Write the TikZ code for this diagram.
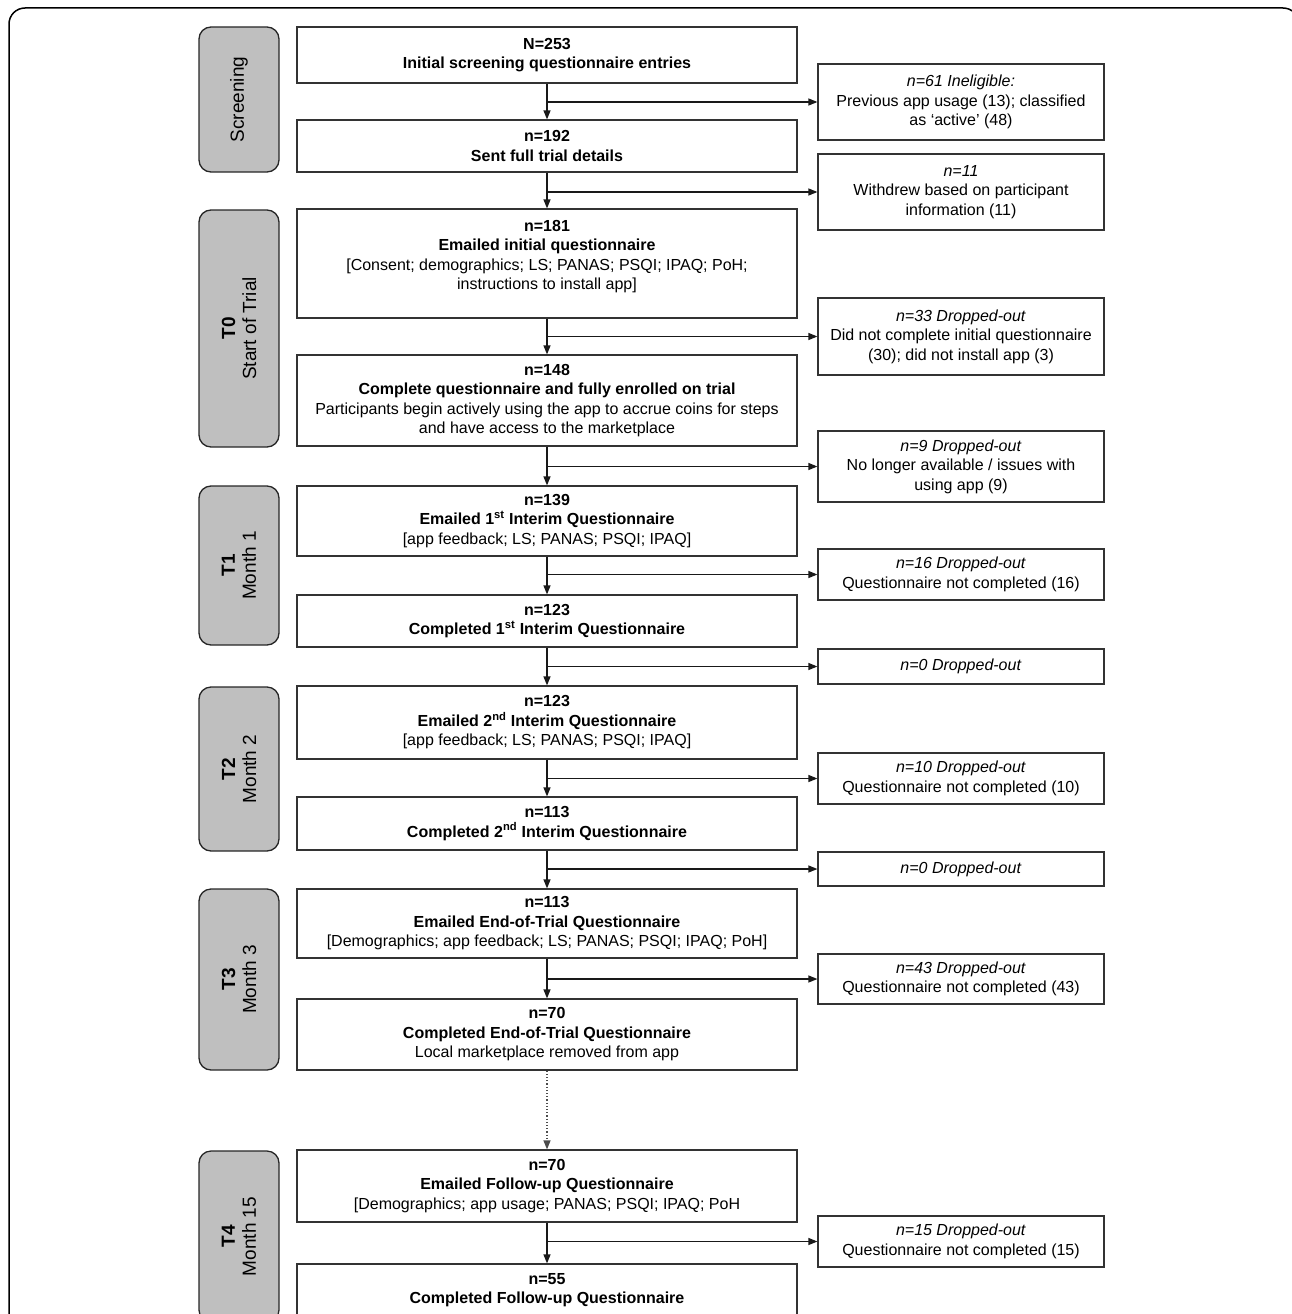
\documentclass[tikz,border=0pt]{standalone}
\usepackage{fontspec}
\setmainfont{Liberation Sans}
\usetikzlibrary{arrows.meta}
\tikzset{
x=1pt, y=-1pt, % one unit per pixel of the layout, y grows downwards
>={Triangle[length=9pt, width=7pt]}, % filled arrow heads
flow/.style={->, line width=1.2pt, black!90}, % arrows between the boxes
mainbox/.style={draw=black!80, line width=1.2pt, minimum width=500pt, align=center, inner sep=2pt, font=\fontsize{16}{19.5}\selectfont}, % left column
dropbox/.style={draw=black!80, line width=1.2pt, minimum width=286pt, align=center, inner sep=2pt, font=\fontsize{16}{19.5}\selectfont}, % exclusions on the right
phasebox/.style={draw=black!85, line width=1.3pt, fill=black!25, rounded corners=12pt, rotate=90, minimum height=80pt, align=center, font=\fontsize{19}{21}\selectfont}, % grey time point labels
}
\begin{document}
\begin{tikzpicture}
        \useasboundingbox (0,0) rectangle (1292,1314);
        \clip (0,0) rectangle (1292,1314);
        \draw[line width=1.5pt, rounded corners=16pt] (9,8) rectangle (1299,1380);

        \node[phasebox, minimum width=145pt] (scr) at (239,99.5) {Screening};
        \node[phasebox, minimum width=237pt] (t0) at (239,328.5) {\textbf{T0}\\Start of Trial};
        \node[phasebox, minimum width=159pt] (t1) at (239,565.5) {\textbf{T1}\\Month 1};
        \node[phasebox, minimum width=164pt] (t2) at (239,769) {\textbf{T2}\\Month 2};
        \node[phasebox, minimum width=181pt] (t3) at (239,979.5) {\textbf{T3}\\Month 3};
        \node[phasebox, minimum width=171pt] (t4) at (239,1236.5) {\textbf{T4}\\Month 15};

        \node[mainbox, minimum height=56pt] (s253) at (547,55) {\textbf{N=253}\\\textbf{Initial screening questionnaire entries}};
        \node[mainbox, minimum height=52pt] (s192) at (547,146) {\textbf{n=192}\\\textbf{Sent full trial details}};
        \node[mainbox, minimum height=109pt] (s181) at (547,263.5) {\textbf{n=181}\\\textbf{Emailed initial questionnaire}\\{}[Consent; demographics; LS; PANAS; PSQI; IPAQ; PoH;\\instructions to install app]\\[-2pt]\mbox{}};
        \node[mainbox, minimum height=91pt] (s148) at (547,400.5) {\textbf{n=148}\\\textbf{Complete questionnaire and fully enrolled on trial}\\Participants begin actively using the app to accrue coins for steps\\and have access to the marketplace};
        \node[mainbox, minimum height=70pt] (s139) at (547,521) {\textbf{n=139}\\\textbf{Emailed 1\textsuperscript{st} Interim Questionnaire}\\{}[app feedback; LS; PANAS; PSQI; IPAQ]};
        \node[mainbox, minimum height=52pt] (s123a) at (547,621) {\textbf{n=123}\\\textbf{Completed 1\textsuperscript{st} Interim Questionnaire}};
        \node[mainbox, minimum height=73pt] (s123b) at (547,722.5) {\textbf{n=123}\\\textbf{Emailed 2\textsuperscript{nd} Interim Questionnaire}\\{}[app feedback; LS; PANAS; PSQI; IPAQ]};
        \node[mainbox, minimum height=53pt] (s113a) at (547,823.5) {\textbf{n=113}\\\textbf{Completed 2\textsuperscript{nd} Interim Questionnaire}};
        \node[mainbox, minimum height=69pt] (s113b) at (547,923.5) {\textbf{n=113}\\\textbf{Emailed End-of-Trial Questionnaire}\\{}[Demographics; app feedback; LS; PANAS; PSQI; IPAQ; PoH]};
        \node[mainbox, minimum height=71pt] (s70a) at (547,1034.5) {\textbf{n=70}\\\textbf{Completed End-of-Trial Questionnaire}\\Local marketplace removed from app};
        \node[mainbox, minimum height=72pt] (s70b) at (547,1186) {\textbf{n=70}\\\textbf{Emailed Follow-up Questionnaire}\\{}[Demographics; app usage; PANAS; PSQI; IPAQ; PoH};
        \node[mainbox, minimum height=52pt] (s55) at (547,1290) {\textbf{n=55}\\\textbf{Completed Follow-up Questionnaire}};

        \node[dropbox, minimum height=76pt] (d61) at (961,102) {\textit{n=61 Ineligible:}\\Previous app usage (13); classified\\as ‘active’ (48)};
        \node[dropbox, minimum height=76pt] (d11) at (961,192) {\textit{n=11}\\Withdrew based on participant\\information (11)};
        \node[dropbox, minimum height=77pt] (d33) at (961,336.5) {\textit{n=33 Dropped-out}\\Did not complete initial questionnaire\\(30); did not install app (3)};
        \node[dropbox, minimum height=71pt] (d9) at (961,466.5) {\textit{n=9 Dropped-out}\\No longer available / issues with\\using app (9)};
        \node[dropbox, minimum height=51pt] (d16) at (961,574.5) {\textit{n=16 Dropped-out}\\Questionnaire not completed (16)};
        \node[dropbox, minimum height=35pt] (d0a) at (961,666.5) {\textit{n=0 Dropped-out}};
        \node[dropbox, minimum height=51pt] (d10) at (961,778.5) {\textit{n=10 Dropped-out}\\Questionnaire not completed (10)};
        \node[dropbox, minimum height=34pt] (d0b) at (961,869) {\textit{n=0 Dropped-out}};
        \node[dropbox, minimum height=50pt] (d43) at (961,979) {\textit{n=43 Dropped-out}\\Questionnaire not completed (43)};
        \node[dropbox, minimum height=51pt] (d15) at (961,1241.5) {\textit{n=15 Dropped-out}\\Questionnaire not completed (15)};

        \draw[flow] (s253) -- (s192);
        \draw[flow] (s192) -- (s181);
        \draw[flow] (s181) -- (s148);
        \draw[flow] (s148) -- (s139);
        \draw[flow] (s139) -- (s123a);
        \draw[flow] (s123a) -- (s123b);
        \draw[flow] (s123b) -- (s113a);
        \draw[flow] (s113a) -- (s113b);
        \draw[flow] (s113b) -- (s70a);
        \draw[flow, dotted, black!70] (s70a) -- (s70b);
        \draw[flow] (s70b) -- (s55);

        \draw[flow] (s253.south |- d61.west) -- (d61.west);
        \draw[flow] (s192.south |- d11.west) -- (d11.west);
        \draw[flow] (s181.south |- d33.west) -- (d33.west);
        \draw[flow] (s148.south |- d9.west) -- (d9.west);
        \draw[flow] (s139.south |- d16.west) -- (d16.west);
        \draw[flow] (s123a.south |- d0a.west) -- (d0a.west);
        \draw[flow] (s123b.south |- d10.west) -- (d10.west);
        \draw[flow] (s113a.south |- d0b.west) -- (d0b.west);
        \draw[flow] (s113b.south |- d43.west) -- (d43.west);
        \draw[flow] (s70b.south |- d15.west) -- (d15.west);
    \end{tikzpicture}
\end{document}
